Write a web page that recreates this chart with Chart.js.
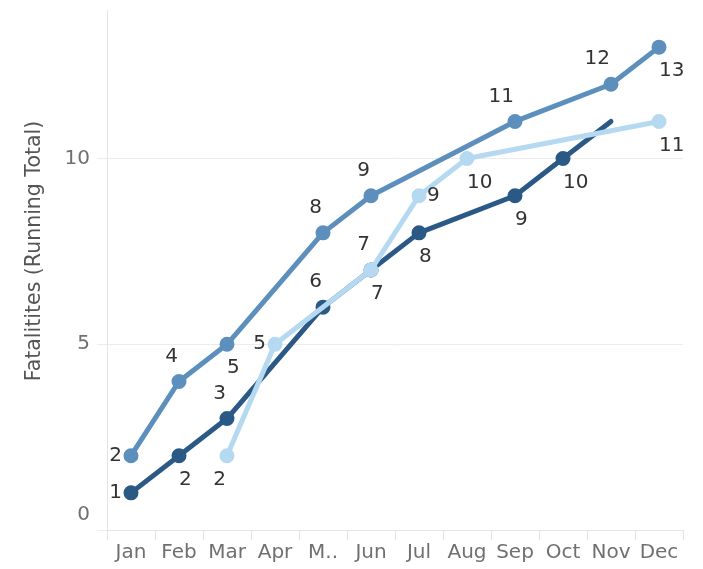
<!DOCTYPE html>
<html>
<head>
<meta charset="utf-8">
<script src="https://cdn.jsdelivr.net/npm/chart.js@4/dist/chart.umd.min.js"></script>
<style>
  html, body { margin: 0; padding: 0; background: #ffffff; }
  #wrap { width: 703px; height: 569px; }
</style>
</head>
<body>
<div id="wrap"><canvas id="chart" width="703" height="569"></canvas></div>
<script>
// Months and the labels shown under each band
const months = ['Jan', 'Feb', 'Mar', 'Apr', 'May', 'Jun', 'Jul', 'Aug', 'Sep', 'Oct', 'Nov', 'Dec'];
const monthTickLabels = ['Jan', 'Feb', 'Mar', 'Apr', 'M..', 'Jun', 'Jul', 'Aug', 'Sep', 'Oct', 'Nov', 'Dec'];

// Running totals of fatalities per year (null = no new entry that month)
const totalsMid   = [2, 4, 5, null, 8, 9, null, null, 11, null, 12, 13];
const totalsDark  = [1, 2, 3, null, 6, 7, 8, null, 9, 10, 11, null];
const totalsLight = [null, null, 2, 5, null, 7, 9, 10, null, null, null, 11];

// Y axis ticks
const yTicks = [0, 5, 10];
const yMax = 14;

// Where each value label sits relative to its point
// tl = above-left, br = below-right, bl = below-left, l = left, r = right
const placeMid   = ['l', 'tl', 'br', null, 'tl', 'tl', null, null, 'tl', null, 'tl', 'br'];
const placeDark  = ['l', 'br', 'tl', null, 'tl', 'tl', 'br', null, 'br', 'br', null, null];
const placeLight = [null, null, 'bl', 'l', null, 'br', 'r', 'br', null, null, null, 'br'];

const FONT = '"DejaVu Sans", "Noto Sans", sans-serif';
const TICK_COLOR = '#707070';

const valueLabels = {
  id: 'valueLabels',
  afterDatasetsDraw(chart) {
    const ctx = chart.ctx;
    ctx.save();
    ctx.font = '20px ' + FONT;
    ctx.fillStyle = '#333333';
    ctx.textBaseline = 'middle';
    chart.data.datasets.forEach((ds, di) => {
      const meta = chart.getDatasetMeta(di);
      const places = ds.labelPlaces || [];
      meta.data.forEach((pt, i) => {
        const v = ds.data[i];
        const p = places[i];
        if (v == null || !p) return;
        let x = pt.x, y = pt.y, align = 'left';
        if (p === 'tl') { align = 'right'; x -= 1; y -= 25; }
        else if (p === 'br') { align = 'left'; x += 0; y += 24; }
        else if (p === 'bl') { align = 'right'; x -= 1; y += 24; }
        else if (p === 'l') { align = 'right'; x -= 9; }
        else if (p === 'r') { align = 'left'; x += 8; }
        ctx.textAlign = align;
        ctx.fillText(String(v), x, y);
      });
    });
    ctx.restore();
  }
};

// Axis title, plus the zero label which sits just above the baseline
const axisExtras = {
  id: 'axisExtras',
  afterDraw(chart) {
    const ctx = chart.ctx;
    const ys = chart.scales.y;
    ctx.save();
    ctx.font = '20px ' + FONT;
    ctx.fillStyle = TICK_COLOR;
    ctx.textAlign = 'right';
    ctx.textBaseline = 'middle';
    ctx.fillText(String(yTicks[0]), ys.right - 17, ys.getPixelForValue(yTicks[0]) - 15);

    ctx.translate(35, 251);
    ctx.rotate(-Math.PI / 2);
    ctx.font = '20.5px ' + FONT;
    ctx.fillStyle = '#555555';
    ctx.textAlign = 'center';
    ctx.fillText('Fatalitites (Running Total)', 0, 0);
    ctx.restore();
  }
};

const lineStyle = (color) => ({
  borderColor: color,
  backgroundColor: color,
  pointBackgroundColor: color,
  pointBorderColor: color,
  borderWidth: 5,
  pointRadius: 5,
  pointHoverRadius: 5,
  borderCapStyle: 'round',
  borderJoinStyle: 'round',
  spanGaps: true,
  fill: false,
  tension: 0
});

new Chart(document.getElementById('chart'), {
  type: 'line',
  data: {
    labels: months,
    datasets: [
      Object.assign({ label: 'Light', data: totalsLight, labelPlaces: placeLight }, lineStyle('#b4d9f0')),
      Object.assign({ label: 'Dark', data: totalsDark, labelPlaces: placeDark }, lineStyle('#2b5985'),
        { pointRadius: [5, 5, 5, 0, 5, 5, 5, 0, 5, 5, 0, 0] }),
      Object.assign({ label: 'Mid', data: totalsMid, labelPlaces: placeMid }, lineStyle('#5d8fbd'))
    ]
  },
  options: {
    responsive: false,
    animation: false,
    devicePixelRatio: 1,
    layout: { padding: { top: 10, right: 20, left: 0, bottom: 0 } },
    plugins: {
      legend: { display: false },
      tooltip: { enabled: false }
    },
    scales: {
      x: {
        type: 'category',
        offset: true,
        afterFit(scale) { scale.height = 39; },
        grid: {
          display: true,
          offset: true,
          drawOnChartArea: false,
          drawTicks: true,
          tickLength: 10,
          color: '#e4e4e4',
          lineWidth: 1
        },
        border: { display: true, color: '#e4e4e4' },
        ticks: {
          callback: (val, i) => monthTickLabels[i],
          color: TICK_COLOR,
          font: { family: FONT, size: 20 },
          padding: 1,
          maxRotation: 0,
          autoSkip: false
        }
      },
      y: {
        min: 0,
        max: yMax,
        afterFit(scale) { scale.width = 107; scale.paddingTop = 0; scale.paddingBottom = 0; },
        afterBuildTicks(scale) { scale.ticks = yTicks.map(v => ({ value: v })); },
        grid: {
          color: '#ececec',
          lineWidth: 1,
          tickLength: 10,
          drawTicks: true
        },
        border: { display: true, color: '#e4e4e4' },
        ticks: {
          callback: (v) => (v === yTicks[0] ? '' : String(v)),
          color: TICK_COLOR,
          font: { family: FONT, size: 20 },
          padding: 7
        }
      }
    }
  },
  plugins: [valueLabels, axisExtras]
});
</script>
</body>
</html>
